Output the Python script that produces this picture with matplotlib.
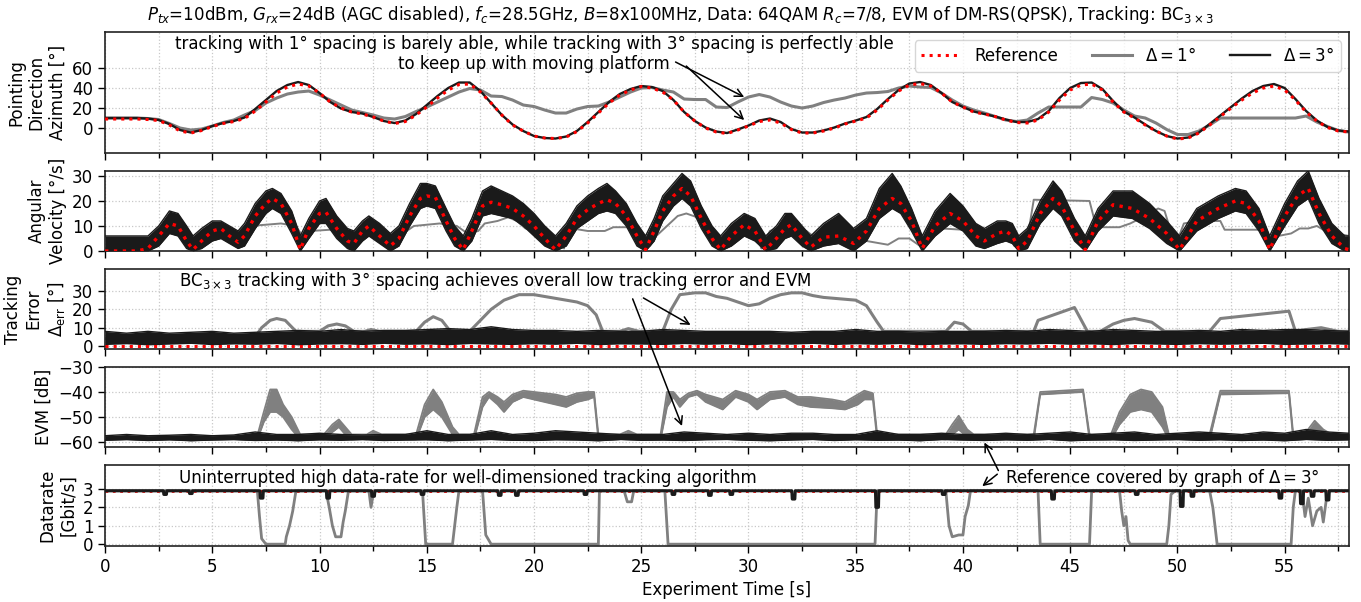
import numpy as np
import matplotlib
matplotlib.use("Agg")
import matplotlib.pyplot as plt
from matplotlib.text import Annotation
from matplotlib.ticker import MultipleLocator

# ---- pointing direction (azimuth, deg), sampled every 0.5 s ----
t_az = np.arange(0, 58.5, 0.5)
az_ref = [9, 9, 9, 9, 8.5, 7.5, 3, -3, -5, -2.5,
          1.5, 4.5, 6.5, 9.5, 17, 26, 35, 41, 44, 42,
          35, 26, 20, 16, 14, 11, 7, 4.5, 6.5, 13,
          21, 30, 38, 43.5, 44, 36, 25, 13, 3, -3,
          -8, -10, -10.5, -9, -3.5, 5, 15, 25, 33, 38,
          41.5, 40, 36, 28, 16, 7, 0, -4, -5.5, -2,
          2, 6.5, 8, 5, -1.5, -5, -5, -3, 0, 4,
          7, 10, 18, 28, 37, 43, 44.5, 42, 35, 26,
          21, 16, 14, 11.5, 8, 5.5, 5, 8, 16, 28,
          38, 43, 44, 38, 26, 16, 10, 3, -3, -8,
          -11, -10, -5, 3, 11.5, 20, 28, 35, 40, 42,
          38, 28, 16, 7, 0.5, -3, -4]
az_3 = [10, 10, 10, 10, 9.5, 8, 4, -2, -4.5, -2,
        2, 5, 7, 10.5, 19, 28, 37, 43, 46, 43,
        35, 26, 19.5, 16, 14.5, 11, 7, 5, 7.5, 14,
        23, 32, 40, 45.5, 45.5, 37, 25, 13, 3.5, -3,
        -8, -10, -10.5, -8.5, -3, 6, 16, 26, 34, 39,
        42, 41, 37, 28, 16, 7, 0.5, -3.5, -5, -1.5,
        2.5, 7.5, 9.5, 6, -1, -4.5, -4.5, -2.5, 0.5, 4.5,
        7.5, 11, 19, 29, 38, 44.5, 46, 43, 35, 26,
        21, 16.5, 14, 11.5, 8.5, 6, 6, 9, 17, 30,
        40, 45, 45.5, 39, 27, 16.5, 10.5, 3.5, -3, -8,
        -10.5, -9.5, -4.5, 4, 12.5, 21, 29.5, 37, 42, 44,
        40, 29, 17, 7.5, 1, -2.5, -3.5]
az_1 = [10, 10, 10, 10, 9.5, 8.5, 4.5, 0, -2, -1,
        2, 5.5, 8, 13, 17.5, 25, 30, 34, 36, 37,
        33, 28, 23, 18, 15.5, 13, 10, 9, 11.5, 16.5,
        21, 26, 31, 36, 39.5, 38, 32, 31.5, 28, 23,
        21.5, 18, 15, 15, 19, 21.5, 22, 26, 31, 36,
        40, 40.5, 38, 36, 29, 28.5, 28.5, 21, 20.5, 26,
        31, 33.5, 31, 26, 22, 20, 22, 25.5, 28, 30,
        33, 35, 35.5, 36.5, 40, 42, 41, 40.5, 35, 28,
        22, 18, 15, 11.5, 8, 6.5, 8, 15, 21, 21,
        21, 21, 30.5, 28.5, 25, 18, 12, 10, 5, -1.5,
        -6.5, -6.5, -3, 3, 10, 10, 10, 10, 10, 10,
        10, 10, 12, 6, 1.5, -2.5, -4]

# ---- angular velocity (deg/s) ----
vel_t = [0, 1.5, 2.0, 2.5, 3.0, 3.4, 3.8, 4.1, 4.5, 5.0,
         5.4, 5.8, 6.2, 6.5, 7.0, 7.5, 7.8, 8.2, 8.7, 9.1,
         9.5, 10.0, 10.3, 10.8, 11.3, 11.6, 12.0, 12.3, 12.8, 13.3,
         13.7, 14.2, 14.7, 15.0, 15.4, 15.9, 16.3, 16.7, 17.1, 17.6,
         18.0, 18.5, 19.0, 19.5, 20.0, 20.5, 21.0, 21.5, 22.0, 22.5,
         23.0, 23.4, 23.8, 24.3, 24.8, 25.2, 25.6, 26.0, 26.5, 26.9,
         27.3, 27.8, 28.3, 28.7, 29.2, 29.8, 30.3, 30.8, 31.3, 31.7,
         32.0, 32.5, 32.9, 33.5, 34.2, 34.9, 35.5, 36.1, 36.7, 37.1,
         37.6, 38.1, 38.7, 39.4, 40.0, 40.6, 41.0, 41.6, 42.0, 42.3,
         42.6, 43.0, 43.6, 44.2, 44.6, 45.2, 45.7, 46.3, 47.0, 47.9,
         48.7, 49.5, 50.1, 50.9, 51.9, 52.7, 53.2, 53.8, 54.3, 55.0,
         55.6, 56.1, 56.6, 57.2, 57.8, 58.0]
vel_ref = [0, 0, 1, 6, 11, 10, 4, 0.5, 4, 8,
           9, 6, 3.5, 6, 14, 19, 21, 19, 11, 0.5,
           9, 15, 15.5, 9, 4, 3, 8, 10, 6, 2,
           5, 14, 21, 22, 21.5, 12, 5, 0.5, 8, 18,
           19.5, 18.5, 17, 14, 10, 5, 0.5, 6, 13, 16.5,
           19, 20.5, 19, 14, 6, 0.5, 8, 16, 22, 25,
           22, 13, 5, 0.5, 6, 10.5, 8, 0.5, 5, 9,
           10.5, 5, 1.5, 5.5, 6, 3, 8, 17, 21, 19,
           12, 1, 10, 15, 12, 6, 4, 7, 8, 6,
           1, 4, 15, 21, 18, 8, 0.5, 12, 18.5, 17,
           13, 7, 0.5, 12, 17, 20, 19, 12, 0.5, 14,
           22, 25, 15, 6, 1, 0.5]
vel3_hi = [6, 6, 6, 10, 16, 15, 10, 6, 9, 12,
           12, 10, 8, 11, 19, 24, 25, 23, 16, 6,
           13, 20, 21, 14, 9, 8, 12, 14, 11, 7,
           10, 19, 27, 27, 26, 17, 10, 6, 13, 24,
           26, 24, 22, 19, 15, 10, 6, 11, 18, 22,
           25, 27, 24, 19, 11, 6, 13, 22, 27, 31,
           28, 18, 10, 6, 11, 15, 13, 6, 10, 15,
           15, 10, 6, 11, 15, 9, 13, 25, 31, 26,
           17, 6, 16, 23, 18, 11, 9, 12, 12, 11,
           6, 9, 20, 28, 24, 13, 6, 17, 24, 24,
           19, 12, 6, 17, 22, 25, 24, 17, 6, 19,
           28, 32, 21, 11, 6, 6]
vel3_lo = [0, 0, 0, 2, 7, 6, 1, 0, 1, 4,
           5, 3, 1, 2, 9, 15, 17, 15, 7, 0,
           5, 11, 11, 5, 1, 0, 4, 6, 3, 0,
           2, 10, 17, 18, 17, 8, 2, 0, 4, 14,
           15, 14, 13, 10, 6, 2, 0, 2, 9, 12,
           15, 16, 15, 10, 2, 0, 4, 12, 18, 21,
           18, 9, 2, 0, 2, 6, 4, 0, 1, 5,
           6, 2, 0, 2, 3, 0, 4, 13, 17, 15,
           8, 0, 6, 11, 8, 2, 1, 3, 4, 3,
           0, 1, 11, 17, 14, 4, 0, 8, 14, 13,
           9, 3, 0, 8, 13, 16, 15, 8, 0, 10,
           18, 21, 11, 3, 0, 0]
vel1_t = [0, 2.0, 2.5, 2.9, 3.5, 3.9, 4.3, 4.9, 5.5, 6.2,
          6.7, 7.5, 8.2, 8.9, 9.2, 9.6, 10.5, 11.3, 12.0, 12.6,
          13.3, 13.9, 14.4, 15.0, 15.6, 16.4, 16.9, 17.4, 17.7, 18.3,
          18.8, 19.2, 19.6, 20.2, 20.8, 21.2, 21.4, 21.6, 21.8, 22.5,
          23.3, 23.7, 24.5, 24.9, 25.4, 25.7, 26.2, 26.7, 27.1, 27.6,
          28.0, 28.5, 28.8, 29.2, 29.8, 30.3, 30.6, 31.0, 31.6, 32.2,
          32.7, 33.0, 34.0, 35.0, 35.5, 36.5, 37.0, 37.5, 38.0, 38.4,
          39.0, 40.0, 41.0, 42.0, 42.4, 42.8, 43.1, 43.3, 45.9, 46.2,
          46.5, 47.3, 47.8, 48.5, 49.1, 49.4, 49.9, 50.3, 51.0, 52.0,
          52.2, 53.9, 54.2, 54.7, 55.3, 55.7, 56.1, 56.5, 56.9, 57.4,
          58.0]
vel1 = [1, 1, 5, 8.5, 8, 2, 4, 5.5, 7, 7.5,
        10, 10.5, 11, 10, 6, 8, 8.5, 8, 7, 7.5,
        6.5, 7, 10, 10.5, 11, 10, 7, 8, 11, 12,
        13.5, 12, 9, 8, 7, 3, 1, 12, 9, 8,
        8, 9.5, 9.5, 7, 2, 6, 10, 14, 15, 13.5,
        8, 3, 2, 10, 10.5, 9.5, 1, 8, 10, 9,
        8, 6, 6.5, 5.5, 4, 2.5, 5, 5, 2, 9,
        9, 8.5, 8, 8.5, 2, 2, 10, 20.5, 20, 10,
        9.5, 9.5, 11, 14, 17, 16, 2, 11, 12, 12,
        8.5, 8.5, 2, 6, 7, 9, 9, 10, 8, 7,
        6]

# ---- tracking error (deg) ----
t_sec = np.arange(0, 59, 1)
err3_hi = [8, 7, 8, 7, 7.5, 8, 7, 7.5, 8, 8.5,
           8, 9, 8, 8.5, 8.5, 9, 9.5, 9, 10.5, 9,
           8.5, 8.5, 8, 8.5, 8, 8, 9, 8.5, 8, 8,
           8, 8, 7.5, 8, 8, 9, 8, 8, 7.5, 8,
           8, 8, 8.5, 8, 9, 8.5, 8, 9, 8.5, 8,
           8, 8.5, 8, 9, 8.5, 9, 9, 8.5, 8]
err3_lo = [0.8, 1.2, 0.6, 1, 1.4, 0.7, 1.1, 0.9, 1.3, 0.6,
           1, 1.2, 0.8, 1.4, 0.9, 1.1, 0.7, 1.3, 1, 0.8,
           1.2, 0.9, 1.4, 0.7, 1.1, 1, 0.8, 1.3, 0.9, 1.2,
           0.7, 1.1, 1, 1.4, 0.8, 1.2, 0.9, 1.3, 0.7, 1,
           1.1, 0.8, 1.2, 1, 1.4, 0.9, 1.1, 0.7, 1.3, 1,
           0.8, 1.2, 0.9, 1.1, 1.4, 0.8, 1, 1.2, 0.9]
err_ref_t = [0, 58]
err_ref = [0, 0]
err1_t = [0, 7.0, 7.3, 7.7, 8.0, 8.4, 8.9, 10.0, 10.4, 10.8,
          11.2, 11.6, 12.1, 12.4, 12.8, 14.5, 14.9, 15.3, 15.7, 16.1,
          17.0, 17.5, 18.0, 18.6, 19.3, 20.0, 20.5, 21.0, 21.5, 22.0,
          22.5, 22.9, 23.2, 24.0, 24.4, 24.9, 26.0, 26.4, 26.8, 27.5,
          28.0, 28.5, 29.0, 29.5, 30.0, 30.5, 31.0, 31.5, 32.0, 32.5,
          33.0, 33.5, 34.0, 34.5, 35.0, 35.5, 36.0, 36.3, 39.2, 39.6,
          40.0, 40.4, 43.3, 43.5, 45.2, 45.8, 46.4, 47.0, 47.5, 48.0,
          48.8, 49.4, 51.5, 52.0, 55.2, 55.5, 56.0, 56.7, 57.5, 58.0]
err1 = [4, 5, 10, 14, 15, 14, 8, 8, 11, 12,
        11, 8, 8, 9, 8, 8, 13, 16, 14, 8,
        8, 14, 20, 25, 28, 28, 27, 26, 25, 24,
        22, 17, 8, 8, 9.5, 8, 8, 20, 28, 29,
        29, 27, 26, 24, 22, 23, 26, 28, 29, 29,
        27.5, 26.5, 26, 25.5, 25, 22, 13, 8, 8, 13,
        12, 8, 8, 14, 21, 8, 8, 12, 14, 15,
        13, 8, 8, 15, 19, 8, 9, 10, 8, 8]

# ---- EVM (dB) ----
evm3_hi = [-57.5, -57, -57.5, -57.3, -57, -57.5, -57.2, -56, -57, -57,
           -56.5, -57, -57.2, -57, -57, -55.5, -57, -57, -55.5, -57,
           -56.5, -55.5, -56, -56.5, -57, -57, -57, -56, -56.5, -57,
           -56.5, -57, -56.5, -56.5, -57, -57, -55.5, -57, -57, -56.5,
           -57, -57, -56.5, -57, -56.5, -56, -57, -56.5, -56, -57,
           -56.5, -56, -56.5, -57, -56, -56.5, -55, -56, -56.5]
evm3_lo = [-59.3, -59, -59.4, -59.1, -59.5, -59.2, -59, -59.4, -59.2, -59.5,
           -59.1, -59.3, -59, -59.4, -59.2, -59.1, -59.5, -59.2, -59, -59.3,
           -59.4, -59.1, -59.2, -59.5, -59, -59.3, -59.2, -59.4, -59.1, -59,
           -59.3, -59.5, -59.2, -59, -59.4, -59.1, -59.3, -59.2, -59.5, -59,
           -59.2, -59.4, -59.1, -59.3, -59, -59.5, -59.2, -59.1, -59.4, -59.2,
           -59, -59.3, -59.1, -59.4, -59.2, -59.5, -59, -59.3, -59.1]
evm_ref_t = [0, 58]
evm_ref = [-58.3, -58.3]
evm1_t = [0, 7.1, 7.4, 7.7, 8.0, 8.3, 8.7, 9.1, 10.2, 10.6,
          10.9, 11.2, 11.5, 12.2, 12.5, 12.9, 14.5, 14.9, 15.3, 15.7,
          16.2, 16.5, 17.2, 17.6, 17.9, 18.3, 18.6, 19.0, 19.5, 20.0,
          20.5, 21.0, 21.5, 22.0, 22.5, 22.8, 23.0, 24.0, 24.4, 24.8,
          25.9, 26.2, 26.5, 26.8, 27.2, 27.6, 28.0, 28.8, 29.4, 30.0,
          30.4, 31.0, 31.7, 32.3, 32.9, 33.9, 34.5, 35.1, 35.4, 35.8,
          36.0, 39.2, 39.5, 39.8, 40.2, 40.5, 43.3, 43.6, 45.6, 45.9,
          46.9, 47.3, 47.8, 48.3, 48.8, 49.3, 49.6, 51.5, 52.0, 55.2,
          55.4, 56.0, 56.4, 56.8, 57.2, 58.0]
evm1_lo = [-59, -59, -52, -48, -48, -50, -55, -59, -59, -56,
           -54, -57, -59, -59, -57, -59, -59, -50, -47, -50,
           -57, -59, -59, -46, -42, -45, -48, -44, -42, -43,
           -44, -45, -46, -44, -43, -42, -59, -59, -57, -59,
           -59, -46, -42, -46, -42, -41, -44, -47, -42, -44,
           -47, -43, -42, -45, -46, -46.5, -47, -45, -43, -43,
           -59, -59, -57, -55, -58, -59, -59, -41, -40, -59,
           -59, -53, -48, -47, -48, -54, -59, -59, -41, -40.5,
           -59, -58, -55, -57, -59, -59]
evm1_hi = [-58, -57.5, -48, -39, -39, -45, -50, -57, -57, -53,
           -51, -54, -57, -57, -55.5, -57, -57, -45, -39, -44,
           -54, -57, -57, -42, -40, -42, -44, -41, -39.5, -40,
           -40.5, -41, -42, -40.5, -40, -40, -57, -57, -55.5, -57,
           -57, -40, -40, -43, -40.5, -39.5, -41, -43, -39.5, -41,
           -43, -40, -39.5, -42, -42, -43, -44, -41, -39.5, -40.5,
           -57, -57, -53, -49.5, -55, -57, -57, -40, -39, -57,
           -57, -48, -41, -39, -40, -46, -57, -57, -39.5, -39.5,
           -57, -56, -51.5, -55, -57, -57]

# ---- datarate (Gbit/s) ----
rate1_t = [0, 7.1, 7.2, 7.3, 7.5, 8.4, 8.45, 8.6, 8.75, 8.9,
           10.3, 10.45, 10.6, 10.75, 11.0, 11.1, 11.2, 11.35, 12.3, 12.4,
           12.5, 12.6, 14.8, 14.95, 16.2, 16.3, 16.4, 16.5, 17.6, 17.75,
           17.9, 18.0, 23.0, 23.05, 24.2, 24.35, 24.55, 24.65, 26.1, 26.25,
           35.9, 36.0, 39.2, 39.35, 39.5, 39.8, 40.0, 40.1, 40.25, 40.35,
           43.5, 43.6, 45.9, 46.0, 47.3, 47.4, 47.5, 47.6, 47.7, 47.8,
           49.5, 49.6, 49.7, 49.9, 51.5, 51.65, 51.85, 55.3, 55.4, 55.5,
           55.8, 55.95, 56.1, 56.3, 56.5, 56.7, 56.8, 56.95, 57.1, 58.0]
rate1 = [2.9, 2.9, 1.5, 0.3, 0, 0, 0.4, 1.0, 1.8, 2.9,
         2.9, 2.0, 1.0, 0.4, 0.4, 1.2, 1.8, 2.9, 2.9, 2.0,
         2.7, 2.9, 2.9, 0, 0, 1.0, 2.0, 2.9, 2.9, 0.5,
         0.2, 0, 0, 2.9, 2.9, 2.3, 2.3, 2.9, 2.9, 0,
         0, 2.9, 2.9, 1.0, 0.4, 0.5, 0.5, 1.5, 2.1, 2.9,
         2.9, 0, 0, 2.9, 2.9, 1.8, 1.0, 1.5, 0.2, 0,
         0, 1.0, 2.7, 2.9, 2.9, 2.0, 0, 0, 2.0, 2.9,
         2.9, 1.5, 2.5, 1.0, 1.8, 2.0, 1.2, 2.5, 2.9, 2.9]
rate3_base = 2.9
rate3_dip_t = [2.8, 4.0, 7.3, 10.4, 12.5, 14.8, 18.4, 19.2, 22.4, 26.5, 28.2, 29.2,
               32.1, 36.0, 39.1, 44.2, 48.1, 50.2, 50.7, 54.8, 55.8, 56.3, 57.0]
rate3_dip_v = [2.7, 2.75, 2.5, 2.5, 2.6, 2.7, 2.65, 2.65, 2.7, 2.7, 2.65, 2.7,
               2.45, 2.0, 2.7, 2.45, 2.7, 2.05, 2.6, 2.5, 2.2, 2.6, 2.4]

GRAY = "#808080"
BLACK = "#1a1a1a"
RED = "#ff0000"
GRID = "#c8c8c8"

plt.rcParams["font.family"] = "DejaVu Sans"
plt.rcParams["font.size"] = 12


def style_axis(ax, ylim, yticks, ylabel, show_x=False):
    ax.set_xlim(0, 58)
    ax.set_ylim(*ylim)
    ax.set_yticks(yticks)
    ax.xaxis.set_major_locator(MultipleLocator(5))
    ax.xaxis.set_minor_locator(MultipleLocator(2.5))
    ax.grid(True, which="major", ls=":", color=GRID, lw=0.9)
    ax.grid(True, which="minor", axis="x", ls=":", color=GRID, lw=0.9)
    ax.set_axisbelow(True)
    ax.tick_params(which="major", direction="out", length=5, width=1, labelsize=12)
    ax.tick_params(which="minor", direction="out", length=3.5, width=1)
    if not show_x:
        ax.tick_params(labelbottom=False)
    for s in ax.spines.values():
        s.set_linewidth(1.2)
        s.set_color("#222222")
    ax.set_ylabel(ylabel, fontsize=12)


def arrow(fig, xy, ax_to, xytext, ax_from):
    a = Annotation("", xy=xy, xycoords=ax_to.transData,
                   xytext=xytext, textcoords=ax_from.transData,
                   arrowprops=dict(arrowstyle="->", color="k", lw=1.1,
                                   shrinkA=0, shrinkB=0, mutation_scale=14),
                   annotation_clip=False)
    fig.add_artist(a)


fig = plt.figure(figsize=(13.61, 6.02), dpi=100)
L, W = 0.0772, 0.914
ax1 = fig.add_axes([L, 0.7458, W, 0.2010])
ax2 = fig.add_axes([L, 0.5831, W, 0.1329])
ax3 = fig.add_axes([L, 0.4203, W, 0.1329])
ax4 = fig.add_axes([L, 0.2575, W, 0.1329])
ax5 = fig.add_axes([L, 0.0930, W, 0.1346])

# panel 1: pointing direction
h1, = ax1.plot(t_az, az_1, color=GRAY, lw=2.2, label=r"$\Delta = 1°$", zorder=2)
h3, = ax1.plot(t_az, az_3, color=BLACK, lw=1.7, label=r"$\Delta = 3°$", zorder=3)
hr, = ax1.plot(t_az, az_ref, color=RED, lw=2.2, ls=":", label="Reference", zorder=4)
style_axis(ax1, (-25, 96), [0, 20, 40, 60], "Pointing\nDirection\nAzimuth [°]")
ax1.legend(handles=[hr, h1, h3], loc="upper right", ncol=3, fontsize=12,
           handlelength=2.4, framealpha=0.8)
ax1.text(20.0, 74, "tracking with 1° spacing is barely able, while tracking with 3° spacing is perfectly able\n"
         "to keep up with moving platform", ha="center", va="center", fontsize=12,
         multialignment="center", zorder=10)

# panel 2: angular velocity
ax2.plot(vel1_t, vel1, color=GRAY, lw=1.4, zorder=2)
ax2.fill_between(vel_t, vel3_lo, vel3_hi, color=BLACK, lw=0, zorder=3)
ax2.plot(vel_t, vel3_hi, color=BLACK, lw=1, zorder=3)
ax2.plot(vel_t, vel3_lo, color=BLACK, lw=1, zorder=3)
ax2.plot(vel_t, vel_ref, color=RED, lw=2.4, ls=":", zorder=4)
style_axis(ax2, (0, 32), [0, 10, 20, 30], "Angular\nVelocity [°/s]")

# panel 3: tracking error
ax3.plot(err1_t, err1, color=GRAY, lw=2.2, zorder=2)
ax3.fill_between(t_sec, err3_lo, err3_hi, color=BLACK, lw=0, zorder=3)
ax3.plot(t_sec, err3_hi, color=BLACK, lw=1, zorder=3)
ax3.plot(err_ref_t, err_ref, color=RED, lw=2.2, ls=":", zorder=4)
style_axis(ax3, (-1.6, 42), [0, 10, 20, 30], "Tracking\nError\n$\\Delta_{\\rm err}$ [°]")
ax3.text(18.2, 35.5, r"BC$_{3\times3}$ tracking with 3° spacing achieves overall low tracking error and EVM",
         ha="center", va="center", fontsize=12, zorder=10)

# panel 4: EVM (reference hidden under the black graph)
ax4.plot(evm_ref_t, evm_ref, color=RED, lw=2, ls=":", zorder=1.5)
ax4.fill_between(evm1_t, evm1_lo, evm1_hi, color=GRAY, lw=0, zorder=2)
ax4.plot(evm1_t, evm1_hi, color=GRAY, lw=1.3, zorder=2)
ax4.plot(evm1_t, evm1_lo, color=GRAY, lw=1.3, zorder=2)
ax4.fill_between(t_sec, evm3_lo, evm3_hi, color=BLACK, lw=0, zorder=3)
ax4.plot(t_sec, evm3_hi, color=BLACK, lw=1, zorder=3)
ax4.plot(t_sec, evm3_lo, color=BLACK, lw=1, zorder=3)
style_axis(ax4, (-62, -30), [-60, -50, -40, -30], "EVM [dB]")

# panel 5: datarate
r3_t, r3_v = [0.0], [rate3_base]
for dt, dv in zip(rate3_dip_t, rate3_dip_v):
    r3_t += [dt - 0.08, dt - 0.06, dt + 0.06, dt + 0.08]
    r3_v += [rate3_base, dv, dv, rate3_base]
r3_t.append(58.0)
r3_v.append(rate3_base)
ax5.plot([0, 58], [rate3_base, rate3_base], color=RED, lw=2, ls=":", zorder=1.5)
ax5.plot(rate1_t, rate1, color=GRAY, lw=2, zorder=2)
ax5.plot(r3_t, r3_v, color=BLACK, lw=2.2, zorder=3)
style_axis(ax5, (-0.1, 4.3), [0, 1, 2, 3], "Datarate\n[Gbit/s]", show_x=True)
ax5.set_xlabel("Experiment Time [s]", fontsize=12)
ax5.text(16.9, 3.6, "Uninterrupted high data-rate for well-dimensioned tracking algorithm",
         ha="center", va="center", fontsize=12, zorder=10)
ax5.text(41.96, 3.6, r"Reference covered by graph of $\Delta = 3°$",
         ha="left", va="center", fontsize=12, zorder=10)

# arrows (some cross panels)
arrow(fig, (29.8, 31), ax1, (26.6, 66), ax1)
arrow(fig, (29.8, 8), ax1, (27.1, 62), ax1)
arrow(fig, (27.3, 11.5), ax3, (25.1, 26.2), ax3)
arrow(fig, (26.9, -53.6), ax4, (24.6, 25.7), ax3)
arrow(fig, (41.0, -60.2), ax4, (41.65, 4.0), ax5)
arrow(fig, (40.9, 3.15), ax5, (41.6, 3.8), ax5)

fig.suptitle(r"$P_{tx}$=10dBm, $G_{rx}$=24dB (AGC disabled), $f_c$=28.5GHz, $B$=8x100MHz, "
             r"Data: 64QAM $R_c$=7/8, EVM of DM-RS(QPSK), Tracking: BC$_{3\times3}$",
             y=0.975, va="center", fontsize=12)

fig.savefig("out.png", dpi=100)
